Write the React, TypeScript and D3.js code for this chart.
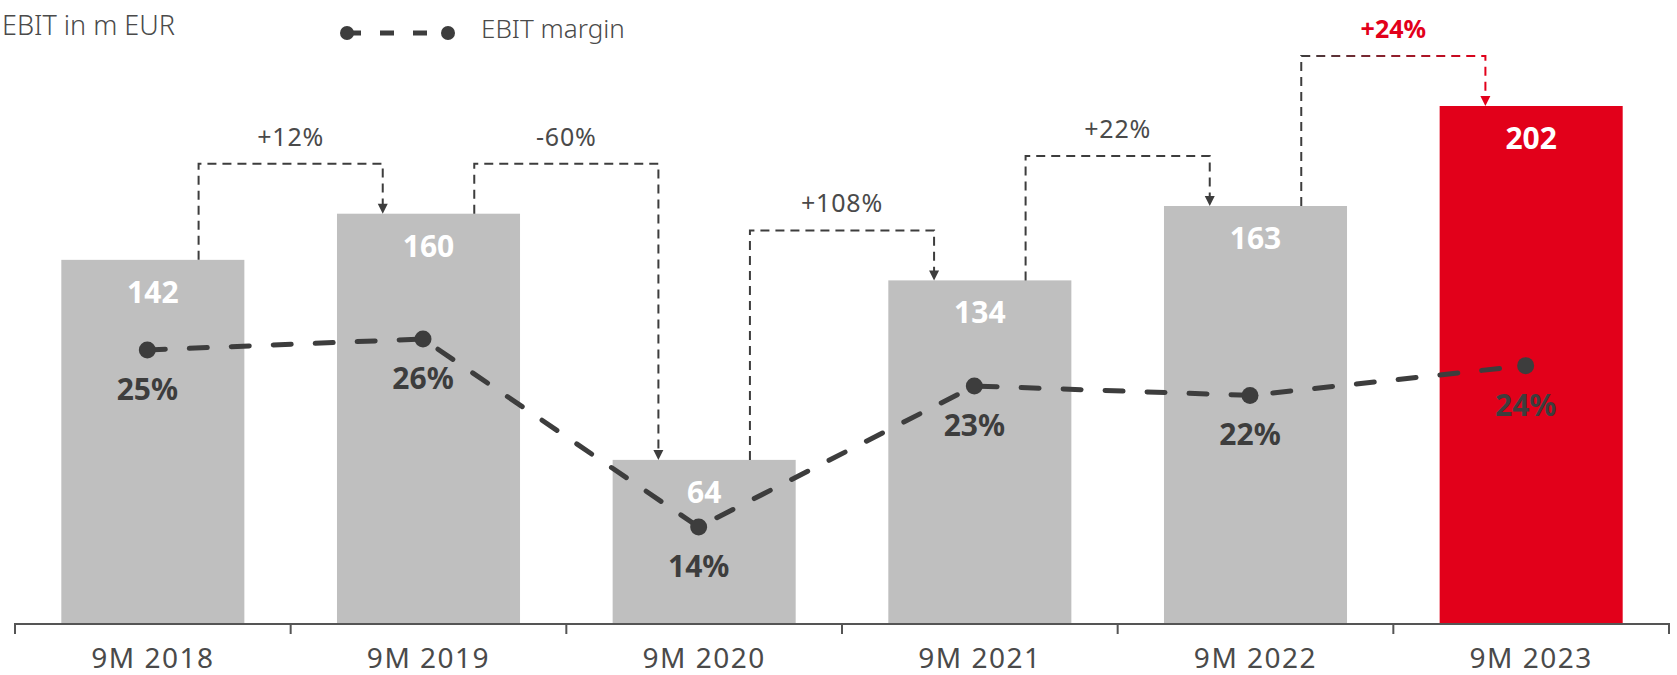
import React from 'react';
import * as d3 from 'd3';

const categories = ['9M 2018', '9M 2019', '9M 2020', '9M 2021', '9M 2022', '9M 2023'];
const ebit = [142, 160, 64, 134, 163, 202];
const ebitMargin = [25.3, 26.0, 14.0, 23.0, 22.4, 24.3];
const growth = ['+12%', '-60%', '+108%', '+22%', '+24%'];

const W = 1677;
const H = 675;
const GRAY = '#bfbfbf';
const RED = '#e2001a';
const DARK = '#3d3d3d';
const TEXT = '#4a4a4a';
const FONT = '"Noto Sans", "Open Sans", sans-serif';

export default function App() {
  const x = d3.scaleBand().domain(categories).range([15, 1669]).paddingInner(0.336).paddingOuter(0.168);
  const y = d3.scaleLinear().domain([0, 202]).range([624, 106]);
  const ym = d3.scaleLinear().domain([14, 26]).range([527, 339]);
  const bw = x.bandwidth();
  const cx = (c: string) => (x(c) as number) + bw / 2;
  const px = (c: string) => cx(c) - 5.5;

  const pts = categories.map((c, i) => ({ c, v: ebitMargin[i] }));
  const line = d3.line<any>().x(d => px(d.c)).y(d => ym(d.v));

  const base = y(0);
  const step = x.step();
  const x0 = x.range()[0];
  const boundaries = d3.range(categories.length + 1).map(i => x0 + i * step);

  const brackets = growth.map((g, i) => {
    const a = categories[i];
    const b = categories[i + 1];
    const left = cx(a) + bw / 4;
    const right = cx(b) - bw / 4;
    const ya = y(ebit[i]);
    const yb = y(ebit[i + 1]);
    const top = Math.min(ya, yb) - 50;
    return { g, left, right, ya, yb, top, last: i === growth.length - 1 };
  });

  return (
    <div style={{ position: 'absolute', left: 0, top: 0 }}>
      <svg width={W} height={H} style={{ display: 'block', fontFamily: FONT }}>
        <defs>
          {brackets.filter(b => b.last).map(b => (
            <linearGradient key="g" id="lastGrad" gradientUnits="userSpaceOnUse" x1={b.left} y1={0} x2={b.right} y2={0}>
              <stop offset="0%" stopColor={DARK} />
              <stop offset="100%" stopColor={RED} />
            </linearGradient>
          ))}
        </defs>

        {/* header */}
        <text x={175} y={35} textAnchor="end" fontSize={27} fill={TEXT} fontWeight={300}>EBIT in m EUR</text>
        <path d="M347,33H448" stroke={DARK} strokeWidth={5} strokeDasharray="14 19" />
        <circle cx={347} cy={33} r={7} fill={DARK} />
        <circle cx={448} cy={33} r={7} fill={DARK} />
        <text x={481} y={38} fontSize={26} fill={TEXT} fontWeight={300}>EBIT margin</text>

        {/* bars */}
        {categories.map((c, i) => (
          <rect key={c} x={x(c)} y={y(ebit[i])} width={bw} height={base - y(ebit[i])}
            fill={i === categories.length - 1 ? RED : GRAY} />
        ))}
        {categories.map((c, i) => (
          <text key={c} x={cx(c)} y={y(ebit[i]) + 43} textAnchor="middle" fontSize={30}
            fontWeight={700} fill="#fff">{ebit[i]}</text>
        ))}

        {/* growth brackets */}
        {brackets.map(b => {
          const col = b.last ? RED : DARK;
          return (
            <g key={b.g}>
              <path d={`M${b.left},${b.ya}V${b.top}H${b.right}V${b.yb - 9}`} fill="none"
                stroke={b.last ? 'url(#lastGrad)' : DARK} strokeWidth={2} strokeDasharray="9 6" />
              <path d={`M${b.right - 5},${b.yb - 10}L${b.right + 5},${b.yb - 10}L${b.right},${b.yb}Z`} fill={col} />
              <text x={(b.left + b.right) / 2} y={b.top - 18} textAnchor="middle" fontSize={b.last ? 25 : 25}
                letterSpacing={b.last ? 0 : 0.8}
                fontWeight={b.last ? 700 : 400} fill={b.last ? RED : TEXT}>{b.g}</text>
            </g>
          );
        })}

        {/* margin line */}
        <path d={line(pts) as string} fill="none" stroke={DARK} strokeWidth={5}
          strokeDasharray="18 24" strokeLinecap="round" />
        {pts.map(p => (
          <circle key={p.c} cx={px(p.c)} cy={ym(p.v)} r={8.5} fill={DARK} />
        ))}
        {pts.map(p => (
          <text key={p.c} x={px(p.c)} y={ym(p.v) + 50} textAnchor="middle" fontSize={30}
            fontWeight={700} fill={DARK}>{Math.round(p.v)}%</text>
        ))}

        {/* axis */}
        <path d={`M${x0},${base + 10}V${base}H${x0 + step * categories.length}V${base + 10}`}
          fill="none" stroke="#555" strokeWidth={2} />
        {boundaries.slice(1, -1).map(bx => (
          <line key={bx} x1={bx} x2={bx} y1={base} y2={base + 10} stroke="#555" strokeWidth={2} />
        ))}
        {categories.map(c => (
          <text key={c} x={cx(c)} y={668} textAnchor="middle" fontSize={28} letterSpacing={1.5}
            fill={TEXT}>{c}</text>
        ))}
      </svg>
    </div>
  );
}
